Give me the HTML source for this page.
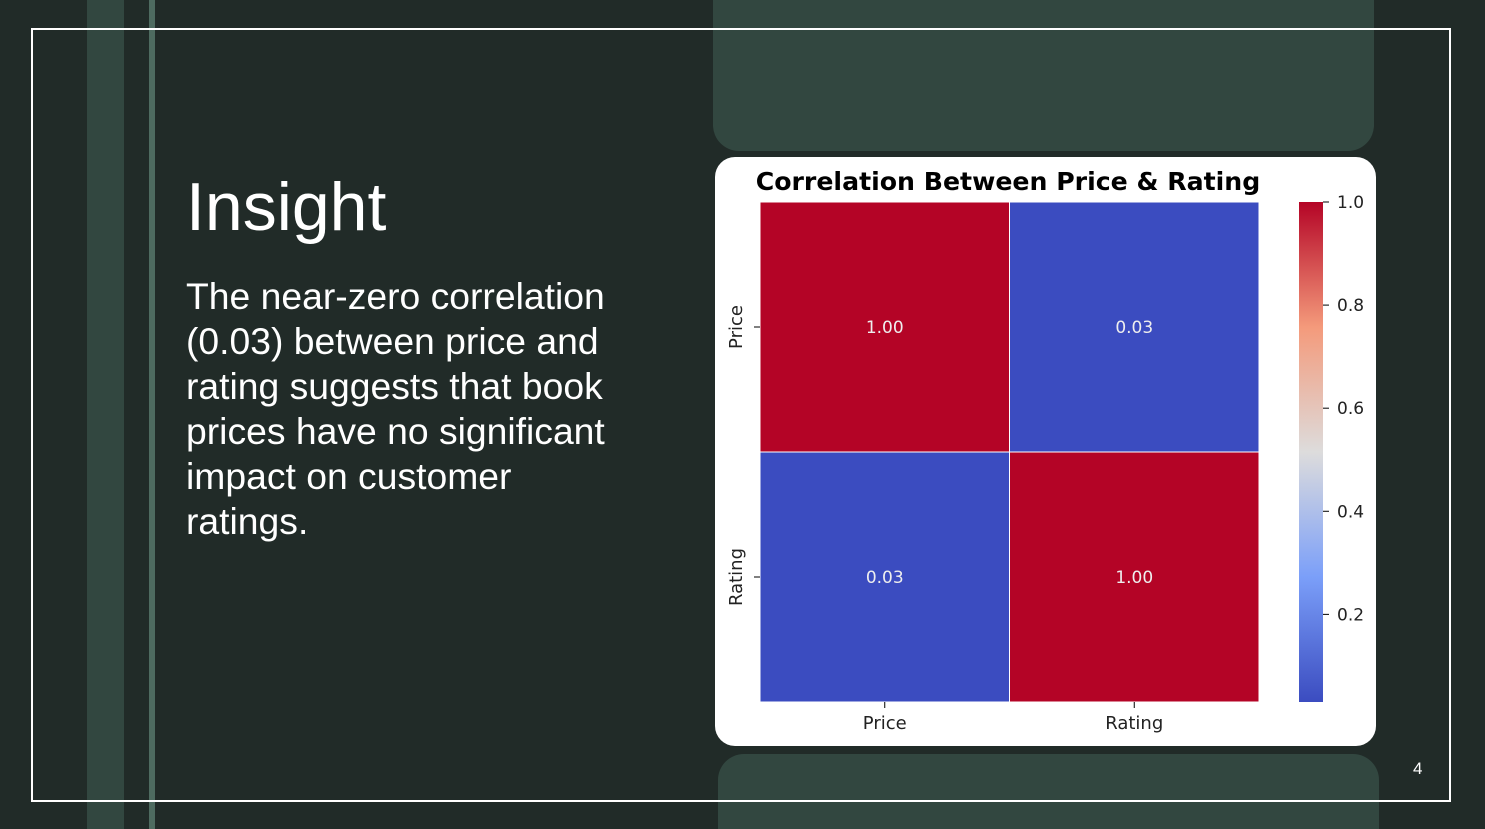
<!DOCTYPE html>
<html style="overflow:hidden;height:829px"><head><meta charset="utf-8"><style>
html,body{margin:0;width:1485px;height:829px;overflow:hidden}
body{background:#212b28;position:relative;font-family:"Liberation Sans",sans-serif}
div{position:absolute}
</style></head><body>
<div style="left:87px;top:0;width:37px;height:829px;background:#324740"></div>
<div style="left:149px;top:0;width:6px;height:829px;background:#4e6b60"></div>
<div style="left:713px;top:-30px;width:661px;height:181px;background:#324740;border-radius:26px"></div>
<div style="left:718px;top:754px;width:661px;height:75px;background:#324740;border-radius:26px 26px 0 0"></div>
<div style="left:31px;top:28px;width:1416px;height:770px;border:2px solid #fff"></div>
<div style="left:186px;top:168px;color:#fff;font-size:68px">Insight</div>
<div style="left:186px;top:274px;width:450px;color:#fff;font-size:37.3px;line-height:45px">The near-zero correlation (0.03) between price and rating suggests that book prices have no significant impact on customer ratings.</div>
<div style="left:1413px;top:759px;color:#fff;font-size:17px">4</div>
<div style="left:715px;top:157px;width:661px;height:589px;background:#fff;border-radius:20px"></div>
<svg style="position:absolute;left:0;top:0" width="1485" height="829" font-family="DejaVu Sans, sans-serif">
<defs><linearGradient id="cg" x1="0" y1="1" x2="0" y2="0">
<stop offset="0" stop-color="#3b4cc0"/><stop offset="0.25" stop-color="#7b9ff9"/><stop offset="0.5" stop-color="#dddcdc"/><stop offset="0.75" stop-color="#f49a7b"/><stop offset="1" stop-color="#b40426"/></linearGradient></defs>
<text x="1008" y="190" text-anchor="middle" font-size="25.2" font-weight="bold" fill="#000">Correlation Between Price &amp; Rating</text>
<g id="cells"></g>
<rect x="1299" y="202" width="24" height="500" fill="url(#cg)"/>
<g id="cbticks"></g>
</svg>
<script>
const labels=["Price","Rating"];
const matrix=[[1.00,0.03],[0.03,1.00]];
const cbTicks=[0.2,0.4,0.6,0.8,1.0];
const vmin=0.03,vmax=1.0;
const NS="http://www.w3.org/2000/svg";
const x0=760,y0=202,W=499,H=500,cw=W/labels.length,ch=H/labels.length;
function col(v){const t=(v-vmin)/(vmax-vmin);
 if(t>0.5){return "rgb(180,4,38)"} return "rgb(59,76,192)";}
const g=document.getElementById("cells"),cb=document.getElementById("cbticks");
function mk(t,attrs,p){const e=document.createElementNS(NS,t);for(const k in attrs)e.setAttribute(k,attrs[k]);p.appendChild(e);return e;}
matrix.forEach((row,i)=>row.forEach((v,j)=>{
 const r=mk("rect",{x:x0+j*cw,y:y0+i*ch,width:cw,height:ch,fill:col(v),stroke:"#fff","stroke-width":1},g);
 
 
 const t=mk("text",{x:x0+j*cw+cw/2,y:y0+i*ch+ch/2+6,"text-anchor":"middle","font-size":17,fill:"#eee"},g);
 t.textContent=v.toFixed(2);
 
 
}));
labels.forEach((l,i)=>{
 const cx=x0+i*cw+cw/2, cy=y0+i*ch+ch/2;
 mk("line",{x1:cx,x2:cx,y1:702,y2:708,stroke:"#000"},g);
 const xt=mk("text",{x:cx,y:729,"text-anchor":"middle","font-size":18,fill:"#222"},g);xt.textContent=l;
 
 
 mk("line",{x1:754,x2:760,y1:cy,y2:cy,stroke:"#000"},g);
 const yt=mk("text",{x:0,y:0,"text-anchor":"middle","font-size":18,fill:"#222",transform:"translate(742,"+cy+") rotate(-90)"},g);yt.textContent=l;
 
 
});
cbTicks.forEach(v=>{
 const y=202+(vmax-v)/(vmax-vmin)*500;
 mk("line",{x1:1323,x2:1329,y1:y,y2:y,stroke:"#000"},cb);
 const t=mk("text",{x:1337,y:y+6,"font-size":17,fill:"#222"},cb);t.textContent=v.toFixed(1);
 
 
});
</script>
</body></html>
